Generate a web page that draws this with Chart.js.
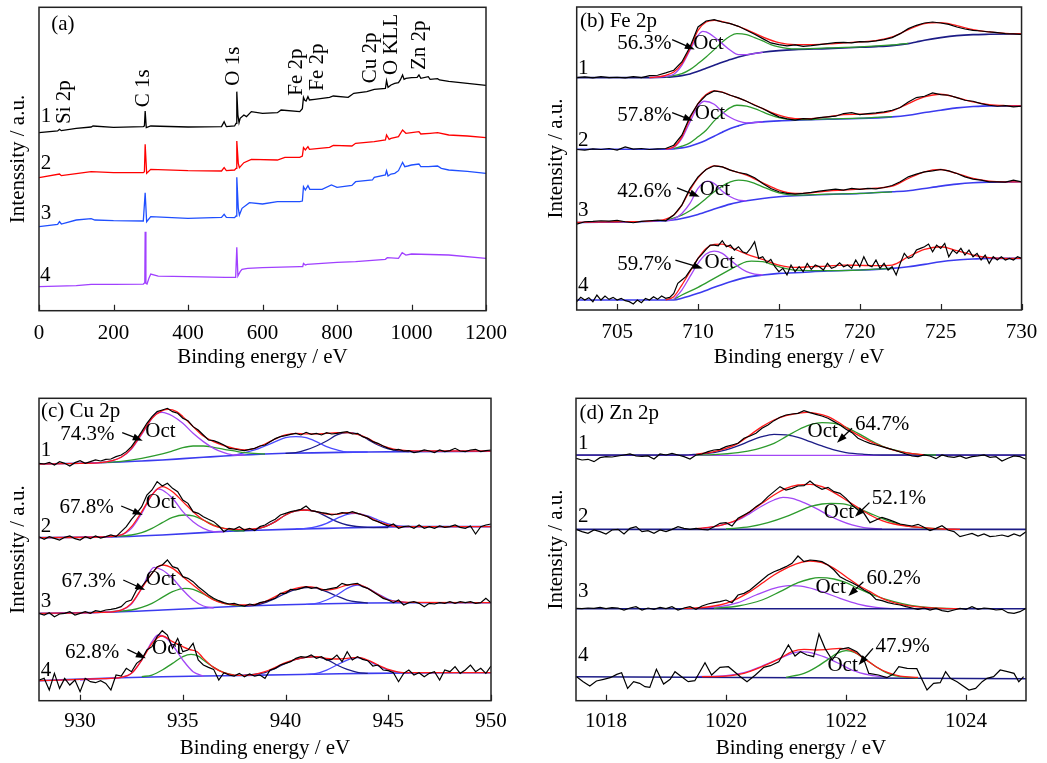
<!DOCTYPE html>
<html>
<head>
<meta charset="utf-8">
<script src="https://cdn.jsdelivr.net/npm/chart.js@4.4.1/dist/chart.umd.min.js"></script>
<style>
  body { margin: 0; background: #fff; }
  #fig { position: relative; width: 1047px; height: 763px; }
  #fig canvas { position: absolute; }
</style>
</head>
<body>
<div id="fig">
  <canvas id="pa" width="520" height="380" style="left:0;top:0;width:520px;height:380px"></canvas>
  <canvas id="pb" width="527" height="380" style="left:520px;top:0;width:527px;height:380px"></canvas>
  <canvas id="pc" width="520" height="383" style="left:0;top:380px;width:520px;height:383px"></canvas>
  <canvas id="pd" width="527" height="383" style="left:520px;top:380px;width:527px;height:383px"></canvas>
</div>
<script>
// ---- tick labels ----
const surveyTicks = [0, 200, 400, 600, 800, 1000, 1200];
const feTicks = [705, 710, 715, 720, 725, 730];
const cuTicks = [930, 935, 940, 945, 950];
const znTicks = [1018, 1020, 1022, 1024];

// ---- (a) survey spectra, [binding energy, intensity a.u.] ----
const survey1 = [[0,534],[50,539],[55,544],[60,540],[100,547],[140,551],[145,554],[200,550],[280,552],[283,554],[285,599],[288,549],[300,554],[400,551],[490,552],[497,567],[503,552],[525,554],[529,562],[531,657],[534,587],[537,564],[540,577],[550,587],[557,582],[570,597],[600,592],[640,594],[650,602],[700,597],[707,606],[710,640],[713,632],[717,629],[722,642],[726,632],[740,634],[780,640],[790,644],[830,640],[845,652],[880,657],[900,664],[930,667],[933,690],[937,670],[945,677],[955,682],[965,684],[970,692],[976,707],[980,694],[985,697],[1000,699],[1015,700],[1020,707],[1025,697],[1045,702],[1050,694],[1070,696],[1075,692],[1100,688],[1150,682],[1200,676]];
const survey2 = [[0,399],[55,410],[60,405],[100,411],[140,417],[200,414],[280,414],[283,417],[285,499],[289,412],[300,424],[400,420],[490,419],[497,429],[503,420],[525,422],[529,427],[531,509],[535,442],[538,429],[550,444],[570,454],[640,452],[660,460],[700,460],[707,464],[710,489],[715,482],[722,492],[726,484],[780,490],[790,496],[840,494],[850,502],[900,507],[930,512],[933,527],[940,514],[945,517],[965,522],[976,542],[985,532],[1000,534],[1020,537],[1025,530],[1050,532],[1070,534],[1100,527],[1150,524],[1200,519]];
const survey3 = [[0,252],[50,259],[55,267],[60,260],[100,272],[140,276],[150,272],[200,270],[280,269],[285,354],[289,267],[300,282],[400,277],[490,280],[497,289],[503,280],[525,279],[529,284],[531,400],[535,307],[538,287],[545,307],[565,324],[600,320],[640,327],[700,327],[707,329],[710,372],[715,362],[722,375],[727,364],[760,364],[785,377],[800,370],[840,376],[850,387],[895,392],[900,400],[930,407],[933,420],[937,404],[945,410],[955,412],[965,420],[976,445],[982,432],[990,434],[1000,437],[1020,440],[1025,432],[1045,432],[1070,434],[1080,427],[1100,422],[1150,418],[1200,412]];
const survey4 = [[0,72],[100,75],[140,79],[200,79],[280,80],[284,84],[285,237],[287,82],[290,80],[295,97],[300,110],[320,104],[400,102],[500,100],[528,100],[531,190],[534,104],[540,117],[545,124],[560,127],[600,129],[700,132],[708,132],[710,142],[715,137],[720,139],[800,145],[850,147],[930,154],[935,159],[965,157],[975,174],[985,167],[1000,170],[1100,167],[1200,157]];

// ---- (b) Fe 2p ----
const fe1Raw = [[702.5,698],[703,700],[703.5,697],[704,701],[704.5,698],[705,699],[705.5,697],[706,701],[706.5,698],[707,704],[707.5,705],[708,712],[708.5,720],[709,745],[709.5,790],[710,850],[710.5,868],[711,872],[711.5,865],[712,860],[712.5,852],[713,840],[713.5,828],[714,815],[714.5,802],[715,797],[715.5,793],[716,796],[716.5,792],[717,794],[717.5,797],[718,800],[718.5,803],[719,804],[719.5,802],[720,806],[720.5,805],[721,808],[721.5,812],[722,818],[722.5,830],[723,845],[723.5,855],[724,862],[724.5,865],[725,862],[725.5,858],[726,850],[726.5,844],[727,840],[727.5,838],[728,835],[728.5,833],[729,830],[729.5,829],[730,828]];
const fe1Fit = [[707,698],[707.5,700],[708,705],[708.5,715],[709,740],[709.5,785],[710,840],[710.5,865],[711,870],[711.5,866],[712,860],[713,842],[714,820],[715,803],[716,797],[717,797],[718,799],[719,802],[720,805],[721,809],[722,820],[723,842],[724,860],[725,863],[726,854],[727,842],[728,835],[729,831],[730,830]];
const fe1Bg = [[702.5,698],[707,698],[708,699],[708.5,701],[709,704],[709.5,709],[710,717],[710.5,726],[711,735],[711.5,744],[712,752],[712.5,760],[713,766],[714,774],[715,779],[716,782],[718,785],[720,789],[721,791],[722,794],[723,800],[723.5,805],[724,810],[725,818],[726,824],[727,827],[728,828],[730,829]];
const fe1Oct = [[707,698],[708,702],[708.5,708],[709,735],[709.5,780],[710,825],[710.3,837],[710.5,835],[711,820],[711.5,800],[712,780],[712.5,767],[713,767],[714,774]];
const fe1Tet = [[708,699],[709,710],[709.5,722],[710,740],[710.5,760],[711,782],[711.5,805],[712,823],[712.4,830],[713,827],[713.5,818],[714,808],[714.5,797],[715,790],[715.5,786],[716,784],[718,787],[720,790],[722,796],[723,801]];

const fe2Raw = [[702.5,482],[703,480],[703.5,484],[704,482],[704.5,485],[705,480],[705.5,490],[706,483],[706.5,485],[707,482],[707.5,484],[708,485],[708.5,495],[709,525],[709.5,580],[710,620],[710.5,645],[711,658],[711.5,654],[712,645],[712.5,637],[713,627],[713.5,615],[714,605],[714.5,592],[715,580],[715.5,574],[716,570],[716.5,575],[717,573],[717.5,578],[718,580],[718.5,582],[719,590],[719.5,593],[720,587],[720.5,590],[721,592],[721.5,595],[722,600],[722.5,608],[723,625],[723.5,638],[724,642],[724.5,652],[725,647],[725.5,645],[726,638],[726.5,630],[727,627],[727.5,620],[728,615],[728.5,612],[729,614],[729.5,610],[730,612]];
const fe2Fit = [[708,483],[708.5,490],[709,520],[709.5,575],[710,620],[710.5,647],[711,658],[711.5,654],[712,645],[713,627],[714,605],[715,585],[716,575],[717,575],[718,580],[719,587],[720,588],[721,590],[722,598],[723,620],[724,640],[725,648],[726,638],[727,625],[728,617],[729,614],[730,613]];
const fe2Bg = [[702.5,483],[708,483],[709,487],[709.5,492],[710,500],[710.5,510],[711,522],[711.5,534],[712,545],[712.5,553],[713,560],[714,565],[715,568],[716,570],[718,573],[720,575],[722,580],[723,585],[724,593],[725,600],[726,607],[727,611],[728,613],[730,613]];
const fe2Oct = [[708,483],[708.5,488],[709,515],[709.5,565],[710,612],[710.4,627],[711,618],[711.5,595],[712,578],[712.5,567],[713,562],[714,565]];
const fe2Tet = [[708.5,485],[709,492],[709.5,502],[710,520],[710.5,540],[711,568],[711.5,590],[712,608],[712.4,615],[713,612],[713.5,605],[714,595],[714.5,585],[715,578],[716,572],[717,572],[718,574],[720,576],[722,581]];

const fe3Raw = [[702.5,258],[703,265],[703.5,266],[704,268],[704.5,267],[705,269],[705.5,265],[706,262],[706.5,266],[707,268],[707.5,270],[708,268],[708.5,285],[709,315],[709.5,365],[710,400],[710.5,422],[711,433],[711.5,430],[712,420],[712.5,413],[713,408],[713.5,397],[714,380],[714.5,365],[715,355],[715.5,350],[716,348],[716.5,350],[717,353],[717.5,357],[718,360],[718.5,363],[719,360],[719.5,365],[720,362],[720.5,365],[721,364],[721.5,368],[722,374],[722.5,385],[723,400],[723.5,408],[724,415],[724.5,418],[725,422],[725.5,418],[726,410],[726.5,400],[727,393],[727.5,390],[728,385],[728.5,385],[729,384],[729.5,390],[730,385]];
const fe3Fit = [[702.5,263],[705,265],[707,267],[708,273],[708.5,285],[709,315],[709.5,360],[710,397],[710.5,422],[711,433],[711.5,430],[712,420],[713,405],[714,382],[715,360],[716,350],[717,352],[718,357],[719,360],[720,363],[721,366],[722,372],[723,395],[724,415],[725,422],[726,410],[727,395],[728,387],[729,385],[730,385]];
const fe3Bg = [[702.5,263],[708,268],[709,275],[710,287],[711,303],[712,318],[713,328],[714,335],[715,340],[716,343],[718,347],[720,350],[722,355],[723,358],[724,365],[725,372],[726,378],[727,382],[728,384],[730,385]];
const fe3Oct = [[708,268],[708.5,273],[709,290],[709.5,320],[710,365],[710.6,387],[711,380],[711.5,357],[712,340],[712.5,330],[713,328]];
const fe3Tet = [[708,268],[709,285],[709.5,298],[710,315],[710.5,335],[711,355],[711.5,372],[712,385],[712.5,390],[713,388],[713.5,380],[714,370],[714.5,360],[715,352],[716,345],[718,348],[720,350],[722,355]];

const fe4Raw = [[702.5,25],[702.75,38],[703,30],[703.25,37],[703.5,25],[703.75,45],[704,30],[704.25,42],[704.5,32],[704.75,38],[705,30],[705.25,35],[705.5,28],[705.75,25],[706,18],[706.25,30],[706.5,22],[706.75,35],[707,30],[707.25,40],[707.5,32],[707.75,42],[708,35],[708.25,38],[708.5,50],[708.75,80],[709,90],[709.25,100],[709.5,118],[709.75,135],[710,155],[710.25,168],[710.5,182],[710.75,195],[711,195],[711.25,193],[711.5,208],[711.75,190],[712,195],[712.25,180],[712.5,190],[712.75,175],[713,170],[713.25,185],[713.5,205],[713.75,155],[714,160],[714.25,142],[714.5,152],[714.75,130],[715,115],[715.25,125],[715.5,105],[715.75,135],[716,115],[716.25,130],[716.5,115],[716.75,140],[717,122],[717.25,135],[717.5,130],[717.75,120],[718,140],[718.25,125],[718.5,130],[718.75,142],[719,130],[719.25,135],[719.5,125],[719.75,150],[720,130],[720.25,160],[720.5,135],[720.75,130],[721,150],[721.25,125],[721.5,140],[721.75,120],[722,130],[722.25,105],[722.5,140],[722.75,170],[723,155],[723.25,160],[723.5,180],[723.75,185],[724,190],[724.25,198],[724.5,175],[724.75,195],[725,185],[725.25,200],[725.5,160],[725.75,180],[726,170],[726.25,185],[726.5,165],[726.75,180],[727,160],[727.25,170],[727.5,150],[727.75,165],[728,140],[728.25,160],[728.5,150],[728.75,160],[729,150],[729.25,155],[729.5,150],[729.75,160],[730,155]];
const fe4Fit = [[708,30],[708.5,40],[709,75],[709.5,115],[710,155],[710.5,185],[711,197],[711.5,198],[712,188],[712.5,178],[713,168],[714,152],[715,135],[716,128],[717,130],[718,132],[719,135],[720,134],[721,133],[722,135],[723,160],[724,182],[725,190],[726,178],[727,165],[728,157],[729,155],[730,155]];
const fe4Bg = [[702.5,30],[708.5,30],[709,35],[710,50],[711,68],[712,85],[713,98],[714,105],[715,110],[716,112],[718,117],[720,120],[722,125],[723,130],[724,137],[725,145],[726,150],[727,153],[728,155],[730,155]];
const fe4Oct = [[708.5,32],[709,60],[709.5,100],[710,140],[710.5,168],[711,177],[711.5,170],[712,150],[712.5,130],[713,115],[713.5,108],[714,105]];
const fe4Tet = [[708.5,32],[709,45],[710,68],[711,95],[712,122],[712.5,135],[713,145],[713.3,147],[714,145],[714.5,138],[715,130],[716,120],[718,118],[720,120],[722,125]];

// ---- (c) Cu 2p ----
const cu1Raw = [[928,712],[928.25,710],[928.5,715],[928.75,707],[929,717],[929.25,712],[929.5,704],[929.75,714],[930,720],[930.25,712],[930.5,717],[930.75,722],[931,719],[931.25,724],[931.5,725],[931.75,732],[932,737],[932.25,747],[932.5,762],[932.75,784],[933,807],[933.25,832],[933.5,852],[933.75,867],[934,872],[934.25,877],[934.5,867],[934.75,862],[935,847],[935.25,840],[935.5,822],[935.75,812],[936,797],[936.25,782],[936.5,780],[936.75,774],[937,767],[937.25,757],[937.5,755],[937.75,752],[938,750],[938.25,754],[938.5,757],[938.75,764],[939,767],[939.25,777],[939.5,786],[939.75,792],[940,795],[940.25,799],[940.5,802],[940.75,797],[941,805],[941.25,799],[941.5,802],[941.75,797],[942,804],[942.25,800],[942.5,802],[942.75,805],[943,807],[943.25,800],[943.5,802],[943.75,792],[944,787],[944.25,777],[944.5,772],[944.75,764],[945,757],[945.25,752],[945.5,754],[945.75,749],[946,750],[946.25,744],[946.5,747],[946.75,752],[947,749],[947.25,744],[947.5,752],[947.75,747],[948,750],[948.25,757],[948.5,749],[948.75,747],[949,752],[949.25,754],[949.5,747],[949.75,750],[950,752]];
const cu1Fit = [[928,710],[930,712],[931,714],[931.5,719],[932,730],[932.5,757],[933,802],[933.5,847],[934,870],[934.3,874],[934.7,867],[935,852],[935.5,822],[936,794],[936.5,777],[937,765],[937.5,757],[938,752],[938.5,757],[939,770],[939.5,785],[940,797],[940.5,802],[941,800],[941.5,800],[942,802],[942.5,804],[943,804],[943.5,799],[944,787],[944.5,770],[945,759],[945.5,752],[946,750],[947,749],[950,749]];
const cu1Bg = [[928,710],[930,712],[932,716],[933,719],[934,722],[935,726],[936,730],[937,734],[938,737],[939,740],[940,742],[942,744],[944,746],[946,747],[950,748]];
const cu1Oct = [[930,712],[931,714],[931.5,719],[932,730],[932.5,755],[933,799],[933.5,847],[933.7,862],[934,865],[934.5,854],[935,832],[935.5,802],[936,777],[936.5,757],[937,744],[937.5,737],[938,737]];
const cu1Tet = [[931,714],[932,718],[933,727],[934,740],[934.5,749],[935,759],[935.5,764],[936,764],[936.5,760],[937,754],[937.5,749],[938,744],[939,740]];
const cu1SatA = [[937.5,736],[938,744],[938.5,752],[939,764],[939.5,777],[940,789],[940.5,792],[941,789],[941.5,777],[942,762],[942.5,752],[943,746],[944,746]];
const cu1SatB = [[940,742],[940.5,744],[941,752],[941.5,764],[942,779],[942.5,797],[943,804],[943.5,800],[944,784],[944.5,767],[945,755],[945.5,749],[946,747]];

const cu2Raw = [[928,492],[928.25,484],[928.5,492],[928.75,487],[929,482],[929.25,490],[929.5,494],[929.75,486],[930,482],[930.25,492],[930.5,486],[930.75,494],[931,488],[931.25,492],[931.5,497],[931.75,492],[932,507],[932.25,522],[932.5,544],[932.75,562],[933,582],[933.25,617],[933.5,632],[933.75,657],[934,644],[934.25,652],[934.5,637],[934.75,627],[935,602],[935.25,592],[935.5,567],[935.75,562],[936,552],[936.25,544],[936.5,537],[936.75,524],[937,507],[937.25,517],[937.5,514],[937.75,522],[938,512],[938.25,517],[938.5,510],[938.75,522],[939,527],[939.25,537],[939.5,544],[939.75,557],[940,562],[940.25,567],[940.5,570],[940.75,574],[941,584],[941.25,570],[941.5,567],[941.75,564],[942,562],[942.25,557],[942.5,560],[942.75,564],[943,562],[943.25,567],[943.5,562],[943.75,557],[944,552],[944.25,542],[944.5,537],[944.75,530],[945,524],[945.25,530],[945.5,517],[945.75,522],[946,524],[946.25,517],[946.5,527],[946.75,517],[947,522],[947.25,517],[947.5,524],[947.75,520],[948,522],[948.25,527],[948.5,520],[948.75,517],[949,524],[949.25,500],[949.5,522],[949.75,527],[950,530]];
const cu2Fit = [[928,489],[931,491],[932,497],[932.5,522],[933,567],[933.5,617],[933.8,637],[934,642],[934.5,627],[935,597],[935.5,567],[936,542],[936.5,525],[937,517],[937.5,514],[938,514],[939,522],[939.5,537],[940,557],[940.5,569],[941,572],[941.5,567],[942,560],[942.5,559],[943,564],[943.5,562],[944,552],[944.5,537],[945,527],[945.5,522],[946,522],[950,522]];
const cu2Bg = [[928,489],[932,492],[934,497],[936,504],[937,508],[938,510],[940,514],[942,517],[944,520],[946,522],[950,522]];
const cu2Oct = [[930,490],[931,491],[932,497],[932.5,517],[933,562],[933.5,617],[933.8,635],[934,632],[934.5,607],[935,567],[935.5,537],[936,517],[936.5,507],[937,506]];
const cu2Tet = [[931.5,492],[932.5,497],[933,504],[933.5,517],[934,534],[934.5,550],[935.1,557],[935.5,554],[936,542],[936.5,527],[937,517],[937.5,510],[938,509]];
const cu2SatA = [[940.5,515],[941,517],[941.5,522],[942,532],[942.5,547],[943,559],[943.4,562],[944,554],[944.5,542],[945,530],[945.5,524],[946,522]];
const cu2SatB = [[937.5,510],[938.5,514],[939,522],[939.5,537],[940,557],[940.5,569],[940.9,572],[941.5,567],[942,552],[942.5,537],[943,527],[944,520],[945,519]];

const cu3Raw = [[928,262],[928.25,257],[928.5,264],[928.75,252],[929,260],[929.25,262],[929.5,267],[929.75,257],[930,262],[930.25,267],[930.5,262],[930.75,270],[931,267],[931.25,272],[931.5,274],[931.75,277],[932,282],[932.25,297],[932.5,302],[932.75,332],[933,342],[933.25,362],[933.5,382],[933.75,402],[934,407],[934.25,422],[934.5,402],[934.75,397],[935,372],[935.25,367],[935.5,357],[935.75,342],[936,330],[936.25,317],[936.5,307],[936.75,300],[937,294],[937.25,290],[937.5,292],[937.75,287],[938,284],[938.25,290],[938.5,287],[938.75,294],[939,297],[939.25,302],[939.5,307],[939.75,322],[940,322],[940.25,334],[940.5,332],[940.75,337],[941,342],[941.25,337],[941.5,340],[941.75,332],[942,334],[942.25,337],[942.5,340],[942.75,352],[943,347],[943.25,350],[943.5,352],[943.75,342],[944,337],[944.25,327],[944.5,317],[944.75,307],[945,302],[945.25,294],[945.5,302],[945.75,287],[946,294],[946.25,297],[946.5,292],[946.75,282],[947,292],[947.25,290],[947.5,294],[947.75,292],[948,297],[948.25,292],[948.5,297],[948.75,294],[949,297],[949.25,292],[949.5,294],[949.75,307],[950,294]];
const cu3Fit = [[928,262],[931,265],[932,272],[932.5,292],[933,337],[933.5,382],[933.8,402],[934,407],[934.5,397],[935,372],[935.5,347],[936,322],[936.5,302],[937,292],[938,287],[938.5,289],[939,297],[939.5,312],[940,327],[940.5,337],[941,342],[941.5,339],[942,332],[942.5,337],[943,347],[943.5,349],[944,337],[944.5,319],[945,302],[945.5,297],[946,295],[950,294]];
const cu3Bg = [[928,262],[932,267],[934,272],[936,278],[938,284],[940,288],[942,291],[944,293],[946,294],[950,294]];
const cu3Oct = [[930,263],[931,265],[932,272],[932.5,290],[933,337],[933.6,400],[934,392],[934.5,367],[935,332],[935.5,302],[936,284],[936.5,278]];
const cu3Tet = [[931.5,267],[932.5,272],[933,280],[933.5,292],[934,310],[934.5,327],[935.1,337],[935.5,334],[936,320],[936.5,304],[937,292],[937.5,286],[938,284]];
const cu3SatA = [[941,289],[941.5,292],[942,302],[942.5,317],[943,337],[943.5,347],[944,337],[944.5,320],[945,304],[945.5,297],[946,294]];
const cu3SatB = [[938,284],[938.5,286],[939,294],[939.5,307],[940,322],[940.5,334],[941.2,340],[941.5,338],[942,327],[942.5,314],[943,302],[943.5,296],[944,293]];

const cu4Raw = [[928,62],[928.25,67],[928.5,32],[928.75,82],[929,37],[929.25,67],[929.5,47],[929.75,62],[930,27],[930.25,67],[930.5,57],[930.75,54],[931,60],[931.25,52],[931.5,32],[931.75,77],[932,74],[932.25,97],[932.5,87],[932.75,112],[933,124],[933.25,152],[933.5,162],[933.75,192],[934,210],[934.25,197],[934.5,157],[934.75,187],[935,147],[935.25,152],[935.5,172],[935.75,122],[936,107],[936.25,100],[936.5,94],[936.75,62],[937,84],[937.25,77],[937.5,74],[937.75,82],[938,72],[938.25,80],[938.5,74],[938.75,77],[939,67],[939.25,92],[939.5,97],[939.75,107],[940,112],[940.25,117],[940.5,127],[940.75,132],[941,130],[941.25,137],[941.5,127],[941.75,132],[942,122],[942.25,124],[942.5,137],[942.75,117],[943,147],[943.25,122],[943.5,132],[943.75,124],[944,120],[944.25,104],[944.5,107],[944.75,92],[945,90],[945.25,84],[945.5,57],[945.75,82],[946,92],[946.25,77],[946.5,84],[946.75,72],[947,82],[947.25,87],[947.5,62],[947.75,92],[948,87],[948.25,102],[948.5,82],[948.75,92],[949,107],[949.25,87],[949.5,97],[949.75,82],[950,104]];
const cu4Fit = [[928,60],[931,66],[932,70],[932.5,82],[933,122],[933.5,172],[933.8,190],[934,194],[934.5,177],[935,162],[935.3,154],[935.7,147],[936,127],[936.5,100],[937,84],[937.5,77],[938,76],[938.5,79],[939,87],[939.5,100],[940,114],[940.5,124],[941,130],[941.5,132],[942,127],[942.5,125],[943,127],[943.5,130],[944,122],[944.5,107],[945,94],[945.5,86],[946,84],[950,84]];
const cu4Bg = [[928,60],[932,69],[934,72],[936,74],[938,76],[940,78],[942,80],[944,82],[946,83],[950,84]];
const cu4Oct = [[930,62],[931,66],[932,70],[932.5,82],[933,122],[933.5,177],[933.8,197],[934.2,187],[934.5,167],[935,122],[935.5,87],[936,74]];
const cu4Tet = [[933,72],[933.5,77],[934,92],[934.5,112],[935,132],[935.4,139],[935.8,132],[936,122],[936.5,100],[937,84],[937.5,77]];
const cu4SatA = [[941,79],[941.5,82],[942,92],[942.5,107],[943,122],[943.5,129],[944,120],[944.5,105],[945,92],[945.5,85],[946,83]];
const cu4SatB = [[938,76],[939,84],[939.5,97],[940,112],[940.5,124],[941.4,132],[942,124],[942.5,107],[943,94],[943.5,85],[944,82]];

// ---- (d) Zn 2p ----
const zn1Raw = [[1017.5,727],[1017.6,722],[1017.7,724],[1017.8,717],[1017.9,729],[1018,732],[1018.1,731],[1018.2,734],[1018.3,737],[1018.4,740],[1018.5,734],[1018.6,733],[1018.7,734],[1018.8,725],[1018.9,740],[1019,737],[1019.1,742],[1019.2,737],[1019.3,732],[1019.4,725],[1019.5,737],[1019.6,740],[1019.7,747],[1019.8,752],[1019.9,754],[1020,762],[1020.1,767],[1020.2,772],[1020.3,787],[1020.4,794],[1020.5,802],[1020.6,817],[1020.7,827],[1020.8,840],[1020.9,850],[1021,857],[1021.1,860],[1021.2,862],[1021.3,870],[1021.4,864],[1021.5,859],[1021.6,854],[1021.7,847],[1021.8,837],[1021.9,827],[1022,814],[1022.1,804],[1022.2,787],[1022.3,779],[1022.4,772],[1022.5,767],[1022.6,762],[1022.7,757],[1022.8,752],[1022.9,746],[1023,740],[1023.1,734],[1023.2,732],[1023.3,737],[1023.4,734],[1023.5,726],[1023.6,737],[1023.7,732],[1023.8,730],[1023.9,734],[1024,727],[1024.1,732],[1024.2,734],[1024.3,737],[1024.4,730],[1024.5,732],[1024.6,719],[1024.7,727],[1024.8,734],[1024.9,732],[1025,724]];
const zn1Fit = [[1019.5,739],[1019.8,747],[1020,757],[1020.2,772],[1020.4,797],[1020.6,822],[1020.8,842],[1021,855],[1021.2,862],[1021.35,865],[1021.5,862],[1021.7,852],[1021.9,832],[1022.1,807],[1022.3,787],[1022.5,770],[1022.7,757],[1022.9,747],[1023.1,741],[1023.3,738]];
const zn1Low = [[1017.5,737],[1019.3,737],[1019.5,739],[1019.8,744],[1020,752],[1020.2,764],[1020.4,779],[1020.6,792],[1020.8,799],[1021,797],[1021.2,790],[1021.4,777],[1021.6,764],[1021.8,752],[1022,744],[1022.3,739],[1022.6,737],[1025,737]];
const zn1Oct = [[1019.5,737],[1019.8,738],[1020.2,744],[1020.5,754],[1020.8,772],[1021,792],[1021.2,812],[1021.4,827],[1021.6,834],[1021.8,832],[1022,820],[1022.2,802],[1022.4,782],[1022.6,764],[1022.8,752],[1023,744],[1023.2,739],[1023.5,737]];
const zn1Tet = [[1017.5,736],[1025,736]];

const zn2Raw = [[1017.5,514],[1017.6,507],[1017.7,502],[1017.8,512],[1017.9,507],[1018,500],[1018.1,512],[1018.2,514],[1018.3,500],[1018.4,517],[1018.5,522],[1018.6,507],[1018.7,510],[1018.8,502],[1018.9,512],[1019,507],[1019.1,514],[1019.2,522],[1019.3,517],[1019.4,514],[1019.5,517],[1019.6,514],[1019.7,512],[1019.8,522],[1019.9,532],[1020,534],[1020.1,524],[1020.2,547],[1020.3,557],[1020.4,567],[1020.5,582],[1020.6,594],[1020.7,612],[1020.8,627],[1020.9,642],[1021,632],[1021.1,637],[1021.2,644],[1021.3,645],[1021.4,659],[1021.5,644],[1021.6,634],[1021.7,640],[1021.8,627],[1021.9,622],[1022,607],[1022.1,587],[1022.2,572],[1022.3,562],[1022.4,534],[1022.5,542],[1022.6,550],[1022.7,544],[1022.8,537],[1022.9,530],[1023,527],[1023.1,524],[1023.2,529],[1023.3,520],[1023.4,510],[1023.5,517],[1023.6,525],[1023.7,512],[1023.8,507],[1023.9,492],[1024,497],[1024.1,502],[1024.2,494],[1024.3,500],[1024.4,492],[1024.5,494],[1024.6,497],[1024.7,492],[1024.8,500],[1024.9,494],[1025,507]];
const zn2Fit = [[1019.5,516],[1019.8,522],[1020,530],[1020.2,544],[1020.4,567],[1020.6,592],[1020.8,617],[1021,637],[1021.2,647],[1021.4,649],[1021.6,642],[1021.8,624],[1022,602],[1022.2,579],[1022.4,557],[1022.6,540],[1022.8,530],[1023,524],[1023.3,519],[1023.6,515],[1023.9,514]];
const zn2Low = [[1017.5,514],[1025,514]];
const zn2Oct = [[1020,515],[1020.4,522],[1020.7,534],[1021,552],[1021.2,567],[1021.4,582],[1021.6,590],[1021.75,592],[1022,589],[1022.2,577],[1022.4,562],[1022.6,547],[1022.8,534],[1023,525],[1023.3,518],[1023.6,515]];
const zn2Tet = [[1019.5,515],[1019.8,522],[1020,530],[1020.2,542],[1020.4,562],[1020.6,584],[1020.8,602],[1020.95,610],[1021.1,607],[1021.3,594],[1021.5,577],[1021.7,557],[1021.9,540],[1022.1,527],[1022.3,519],[1022.6,515]];

const zn3Raw = [[1017.5,277],[1017.6,276],[1017.7,278],[1017.8,277],[1017.9,280],[1018,276],[1018.1,279],[1018.2,278],[1018.3,272],[1018.4,278],[1018.5,282],[1018.6,272],[1018.7,278],[1018.8,274],[1018.9,280],[1019,276],[1019.1,282],[1019.2,272],[1019.3,278],[1019.4,282],[1019.5,274],[1019.6,284],[1019.7,290],[1019.8,294],[1019.9,297],[1020,302],[1020.1,294],[1020.2,317],[1020.3,322],[1020.4,332],[1020.5,347],[1020.6,362],[1020.7,377],[1020.8,387],[1020.9,394],[1021,402],[1021.1,412],[1021.2,434],[1021.3,417],[1021.4,422],[1021.5,420],[1021.6,417],[1021.7,407],[1021.8,392],[1021.9,372],[1022,362],[1022.1,354],[1022.2,344],[1022.3,332],[1022.4,322],[1022.5,304],[1022.6,300],[1022.7,294],[1022.8,290],[1022.9,287],[1023,282],[1023.1,278],[1023.2,274],[1023.3,278],[1023.4,272],[1023.5,277],[1023.6,270],[1023.7,267],[1023.8,272],[1023.9,277],[1024,274],[1024.1,282],[1024.2,274],[1024.3,278],[1024.4,276],[1024.5,272],[1024.6,274],[1024.7,264],[1024.8,262],[1024.9,267],[1025,277]];
const zn3Fit = [[1019.3,277],[1019.5,278],[1019.8,284],[1020,292],[1020.2,307],[1020.4,327],[1020.6,352],[1020.8,377],[1021,397],[1021.2,412],[1021.4,419],[1021.6,414],[1021.8,397],[1022,372],[1022.2,347],[1022.4,327],[1022.6,307],[1022.8,294],[1023,286],[1023.3,280],[1023.6,277],[1023.9,276]];
const zn3Low = [[1017.5,276],[1025,276]];
const zn3Oct = [[1019.8,277],[1020.2,284],[1020.6,302],[1020.9,327],[1021.2,354],[1021.4,365],[1021.55,369],[1021.8,365],[1022,354],[1022.2,337],[1022.5,314],[1022.8,297],[1023.1,285],[1023.5,278],[1023.8,276]];
const zn3Tet = [[1019.5,277],[1019.9,282],[1020.2,294],[1020.5,317],[1020.8,337],[1021.05,345],[1021.3,342],[1021.6,327],[1021.9,307],[1022.2,290],[1022.5,280],[1022.8,276]];

const zn4Raw = [[1017.51,72],[1017.62,57],[1017.73,44],[1017.84,59],[1017.96,64],[1018.07,69],[1018.18,79],[1018.26,84],[1018.36,37],[1018.46,57],[1018.56,52],[1018.65,42],[1018.73,40],[1018.84,94],[1018.96,50],[1019.07,64],[1019.15,87],[1019.26,72],[1019.37,57],[1019.48,60],[1019.65,114],[1019.76,77],[1019.9,100],[1020.04,102],[1020.24,72],[1020.35,57],[1020.49,77],[1020.63,100],[1020.74,105],[1020.88,117],[1021.04,167],[1021.15,134],[1021.24,147],[1021.35,137],[1021.46,132],[1021.55,200],[1021.65,157],[1021.77,122],[1021.9,154],[1022.04,159],[1022.18,147],[1022.29,127],[1022.38,82],[1022.54,77],[1022.68,69],[1022.79,80],[1022.88,102],[1023.02,97],[1023.18,96],[1023.35,32],[1023.46,52],[1023.57,54],[1023.66,87],[1023.74,67],[1023.85,57],[1024.05,32],[1024.16,37],[1024.27,57],[1024.35,67],[1024.46,72],[1024.57,92],[1024.69,87],[1024.8,82],[1024.88,57],[1024.96,72]];
const zn4Fit = [[1019.6,72],[1020,74],[1020.3,82],[1020.6,102],[1020.9,127],[1021.1,147],[1021.3,154],[1021.5,152],[1021.7,154],[1021.9,157],[1022.1,150],[1022.3,127],[1022.5,102],[1022.7,84],[1022.9,74],[1023.2,70]];
const zn4Low = [[1017.5,72],[1025,66]];
const zn4Oct = [[1021,70],[1021.3,82],[1021.5,100],[1021.7,124],[1021.85,142],[1022,150],[1022.15,144],[1022.3,127],[1022.5,102],[1022.7,82],[1022.9,72],[1023.2,68]];
const zn4Tet = [[1019.5,72],[1020,75],[1020.3,84],[1020.6,104],[1020.9,127],[1021.1,142],[1021.25,147],[1021.5,140],[1021.7,127],[1021.9,110],[1022.1,92],[1022.4,77],[1022.7,70]];

// ---- annotations: [x, y, text] in data units ----
const surveyPeaks = [[68,560,'Si 2p'],[280,610,'C 1s'],[522,675,'O 1s'],[690,645,'Fe 2p'],[747,660,'Fe 2p'],[889,682,'Cu 2p'],[947,707,'O KLL'],[1021,722,'Zn 2p']];
const surveyTexts = [[33,857,'(a)']];
const surveyNums = [[19,582,'1'],[19,442,'2'],[19,292,'3'],[17,107,'4']];

const feTexts = [[702.7,867,'(b) Fe 2p'],[705.0,801,'56.3%'],[709.7,801,'Oct'],[705.0,585,'57.8%'],[709.8,590,'Oct'],[705.0,355,'42.6%'],[710.1,362,'Oct'],[705.0,138,'59.7%'],[710.4,142,'Oct']];
const feNums = [[702.9,725,'1'],[702.9,510,'2'],[702.9,300,'3'],[702.9,75,'4']];
const feArrows = [[708.4,812,709.8,782],[708.4,593,709.7,568],[708.7,367,710.1,340],[708.6,150,710.3,125]];

const cuTexts = [[928.1,867,'(c) Cu 2p'],[929.04,797,'74.3%'],[933.17,807,'Oct'],[929.0,579,'67.8%'],[933.2,594,'Oct'],[929.1,357,'67.3%'],[933.2,364,'Oct'],[929.27,144,'62.8%'],[933.5,157,'Oct']];
const cuNums = [[928.34,750,'1'],[928.34,522,'2'],[928.34,297,'3'],[928.34,92,'4']];
const cuArrows = [[932.05,804,933.05,780],[932.0,584,933.05,557],[932.1,362,933.17,332],[932.3,154,933.2,127]];

const znTexts = [[1017.56,862,'(d) Zn 2p'],[1021.36,807,'Oct'],[1022.15,827,'64.7%'],[1021.63,564,'Oct'],[1022.43,607,'52.1%'],[1021.49,340,'Oct'],[1022.34,367,'60.2%'],[1021.69,107,'Oct'],[1022.49,162,'47.9%']];
const znNums = [[1017.62,772,'1'],[1017.62,552,'2'],[1017.62,327,'3'],[1017.62,137,'4']];
const znArrows = [[1022.10,817,1021.85,774],[1022.39,594,1022.15,552],[1022.29,357,1022.04,314],[1022.45,157,1022.21,107]];

// ---------------- drawing ----------------
const FONT = '"Liberation Serif", "Times New Roman", serif';
Chart.defaults.font.family = FONT;
Chart.defaults.font.size = 21;
Chart.defaults.color = '#000';

const RED = '#ff1a1a', PURPLE = '#a347f5', GREEN = '#2d9b2d', BLUE = '#3b3bef', NAVY = '#1c1c86';

// box around the plot plus inward ticks on the bottom axis
const framePlugin = {
  id: 'frame',
  afterDatasetsDraw(chart) {
    const { ctx, chartArea: a, scales: { x } } = chart;
    ctx.save();
    ctx.strokeStyle = '#222';
    ctx.lineWidth = 1.5;
    ctx.strokeRect(a.left, a.top, a.right - a.left, a.bottom - a.top);
    ctx.beginPath();
    x.ticks.forEach(t => {
      const px = Math.round(x.getPixelForValue(t.value)) + 0.5;
      ctx.moveTo(px, a.bottom);
      ctx.lineTo(px, a.bottom - 6);
    });
    ctx.lineWidth = 1.2;
    ctx.stroke();
    ctx.restore();
  }
};

function notesPlugin(n) {
  return {
    id: 'notes',
    afterDraw(chart) {
      const { ctx, scales: { x, y } } = chart;
      const X = v => x.getPixelForValue(v), Y = v => y.getPixelForValue(v);
      ctx.save();
      ctx.fillStyle = '#000';
      ctx.strokeStyle = '#000';
      ctx.font = '21px ' + FONT;
      ctx.textBaseline = 'middle';
      ctx.textAlign = 'left';
      (n.texts || []).forEach(([vx, vy, t]) => ctx.fillText(t, X(vx), Y(vy)));
      ctx.textAlign = 'center';
      (n.nums || []).forEach(([vx, vy, t]) => ctx.fillText(t, X(vx), Y(vy)));
      (n.upright || []).forEach(([vx, vy, t]) => {
        ctx.save();
        ctx.translate(X(vx), Y(vy));
        ctx.rotate(-Math.PI / 2);
        ctx.textAlign = 'left';
        ctx.fillText(t, 0, 0);
        ctx.restore();
      });
      ctx.lineWidth = 1.3;
      (n.arrows || []).forEach(([x1, y1, x2, y2]) => {
        const ax = X(x1), ay = Y(y1), bx = X(x2), by = Y(y2);
        const ang = Math.atan2(by - ay, bx - ax), c = Math.cos(ang), s = Math.sin(ang);
        ctx.beginPath();
        ctx.moveTo(ax, ay);
        ctx.lineTo(bx - 6 * c, by - 6 * s);
        ctx.stroke();
        ctx.beginPath();
        ctx.moveTo(bx, by);
        ctx.lineTo(bx - 10 * c + 3.5 * s, by - 10 * s - 3.5 * c);
        ctx.lineTo(bx - 10 * c - 3.5 * s, by - 10 * s + 3.5 * c);
        ctx.closePath();
        ctx.fill();
      });
      ctx.restore();
    }
  };
}

function drawPanel(id, p) {
  const datasets = p.lines.map(([data, color, smooth, width]) => ({
    data, borderColor: color, borderWidth: width || 1.3, pointRadius: 0, fill: false,
    tension: 0, cubicInterpolationMode: smooth ? 'monotone' : 'default'
  }));
  const b = p.box;
  return new Chart(document.getElementById(id), {
    type: 'line',
    data: { datasets },
    plugins: [framePlugin, notesPlugin(p.notes)],
    options: {
      responsive: false,
      animation: false,
      devicePixelRatio: 1,
      layout: { padding: { top: b.top, right: b.right, left: 0, bottom: 0 } },
      plugins: { legend: { display: false }, tooltip: { enabled: false } },
      scales: {
        x: {
          type: 'linear', min: p.xMin, max: p.xMax,
          afterBuildTicks: s => { s.ticks = p.ticks.map(v => ({ value: v })); },
          afterFit: s => { s.height = b.xh; },
          grid: { display: false, drawTicks: false },
          border: { display: false },
          ticks: { padding: b.tickPad, maxRotation: 0, callback: v => String(v) },
          title: { display: true, text: 'Binding energy / eV', padding: { top: 0, bottom: b.titlePad } }
        },
        y: {
          min: 0, max: p.yMax,
          afterFit: s => { s.width = b.left; },
          ticks: { display: false },
          grid: { display: false, drawTicks: false },
          border: { display: false },
          title: { display: true, text: p.yTitle, padding: { top: b.yPad, bottom: 0 } }
        }
      }
    }
  });
}

drawPanel('pa', {
  xMin: 0, xMax: 1200, yMax: 910, ticks: surveyTicks, yTitle: 'Intenssity / a.u.',
  box: { left: 39, right: 34, top: 7.3, xh: 69.3, tickPad: 9.7, titlePad: 10.4, yPad: 5.4 },
  lines: [[survey1, '#000', false, 1.3], [survey2, '#ff0000', false, 1.3], [survey3, '#1f4fff', false, 1.3], [survey4, '#a040ff', false, 1.3]],
  notes: { texts: surveyTexts, nums: surveyNums, upright: surveyPeaks }
});

drawPanel('pb', {
  xMin: 702.5, xMax: 730, yMax: 910, ticks: feTicks, yTitle: 'Intensity / a.u.',
  box: { left: 56.7, right: 22, top: 7, xh: 70, tickPad: 9.7, titlePad: 10.4, yPad: 24.1 },
  lines: [
    [fe1Raw, '#000', false, 1.2], [fe2Raw, '#000', false, 1.2], [fe3Raw, '#000', false, 1.2], [fe4Raw, '#000', false, 1.2],
    [fe1Fit, RED, true], [fe2Fit, RED, true], [fe3Fit, RED, true], [fe4Fit, RED, true],
    [fe1Oct, PURPLE, true], [fe2Oct, PURPLE, true], [fe3Oct, PURPLE, true], [fe4Oct, PURPLE, true],
    [fe1Tet, GREEN, true], [fe2Tet, GREEN, true], [fe3Tet, GREEN, true], [fe4Tet, GREEN, true],
    [fe1Bg, NAVY, true, 1.6], [fe2Bg, BLUE, true, 1.6], [fe3Bg, BLUE, true, 1.6], [fe4Bg, BLUE, true, 1.6]
  ],
  notes: { texts: feTexts, nums: feNums, arrows: feArrows }
});

drawPanel('pc', {
  xMin: 928, xMax: 950, yMax: 907, ticks: cuTicks, yTitle: 'Intenssity / a.u.',
  box: { left: 39, right: 29, top: 18.3, xh: 62.3, tickPad: 8.4, titlePad: 2.1, yPad: 5.4 },
  lines: [
    [cu1Raw, '#000', false, 1.2], [cu2Raw, '#000', false, 1.2], [cu3Raw, '#000', false, 1.2], [cu4Raw, '#000', false, 1.2],
    [cu1Fit, RED, true], [cu2Fit, RED, true], [cu3Fit, RED, true], [cu4Fit, RED, true],
    [cu1Oct, PURPLE, true], [cu2Oct, PURPLE, true], [cu3Oct, PURPLE, true], [cu4Oct, PURPLE, true],
    [cu1Tet, GREEN, true], [cu2Tet, GREEN, true], [cu3Tet, GREEN, true], [cu4Tet, GREEN, true],
    [cu1SatA, '#4a4aff', true], [cu2SatA, '#4a4aff', true], [cu3SatA, '#4a4aff', true], [cu4SatA, '#4a4aff', true],
    [cu1SatB, NAVY, true], [cu2SatB, NAVY, true], [cu3SatB, NAVY, true], [cu4SatB, NAVY, true],
    [cu1Bg, BLUE, true, 1.6], [cu2Bg, BLUE, true, 1.6], [cu3Bg, BLUE, true, 1.6], [cu4Bg, BLUE, true, 1.6]
  ],
  notes: { texts: cuTexts, nums: cuNums, arrows: cuArrows }
});

drawPanel('pd', {
  xMin: 1017.5, xMax: 1025, yMax: 907, ticks: znTicks, yTitle: 'Intensity / a.u.',
  box: { left: 56, right: 21, top: 18.3, xh: 62.3, tickPad: 8.4, titlePad: 2.1, yPad: 24.1 },
  lines: [
    [zn1Raw, '#000', false, 1.2], [zn2Raw, '#000', false, 1.2], [zn3Raw, '#000', false, 1.2], [zn4Raw, '#000', false, 1.2],
    [zn1Fit, RED, true], [zn2Fit, RED, true], [zn3Fit, RED, true], [zn4Fit, RED, true],
    [zn1Oct, GREEN, true], [zn2Oct, GREEN, true], [zn3Oct, GREEN, true], [zn4Oct, GREEN, true],
    [zn1Low, NAVY, true], [zn2Low, NAVY, false, 1.6], [zn3Low, NAVY, false, 1.6], [zn4Low, NAVY, false, 1.6],
    [zn1Tet, PURPLE, false], [zn2Tet, PURPLE, true], [zn3Tet, PURPLE, true], [zn4Tet, PURPLE, true]
  ],
  notes: { texts: znTexts, nums: znNums, arrows: znArrows }
});
</script>
</body>
</html>
